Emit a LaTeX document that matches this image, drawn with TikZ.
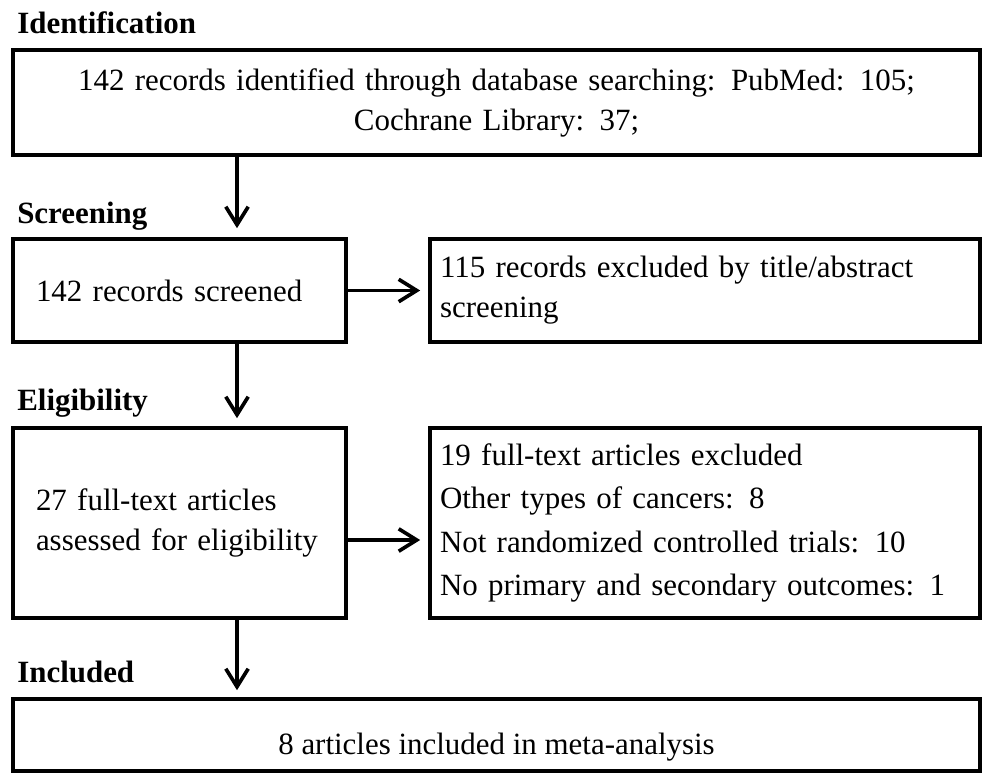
\documentclass[tikz,border=0pt]{standalone}
\usepackage{fontspec}
\setmainfont{Liberation Serif}
\usetikzlibrary{positioning,arrows.meta}
\def\pxu{0.025cm}

\begin{document}
\begin{tikzpicture}[x=0.025cm,y=-0.025cm,
  font=\fontsize{22}{28.5}\selectfont,
  >={Straight Barb[length=0.45cm,width=0.56cm]},
  box/.style={draw,line width=2.6pt,inner ysep=0pt},
  stage/.style={font=\fontsize{22}{28.5}\selectfont\bfseries,anchor=base west,inner sep=0pt},
  flow/.style={->,line width=2.6pt}]
\useasboundingbox (0,0) rectangle (987,772);

% Stage headings.
\node[stage] (hIdent) at (17,33) {Identification};
\node[stage] (hScreen) at (17,223) {Screening};
\node[stage] (hElig) at (17,410) {Eligibility};
\node[stage] (hIncl) at (17,682) {Included};

% Main column and side boxes.
\node[box,minimum width=967*\pxu,minimum height=105*\pxu,align=center,text width=940*\pxu] (ident) at (496.5,102.5)
  {142 records identified through database searching: PubMed: 105;\\ Cochrane Library: 37;};
\node[box,minimum width=333*\pxu,minimum height=103*\pxu,inner xsep=23*\pxu,align=left,text width=287*\pxu] (screen) at (179.5,290.5)
  {142 records screened};
\node[box,minimum width=550*\pxu,minimum height=103*\pxu,inner xsep=10*\pxu,align=left,text width=530*\pxu] (excl1) at (705,290.5)
  {115 records excluded by title/abstract\\ screening};
\node[box,minimum width=333*\pxu,minimum height=190*\pxu,inner xsep=23*\pxu,align=left,text width=287*\pxu] (elig) at (179.5,523)
  {27 full-text articles\\ assessed for eligibility};
\node[box,minimum width=550*\pxu,minimum height=190*\pxu,inner xsep=10*\pxu,align=left,text width=530*\pxu,
  font=\fontsize{22}{31}\selectfont] (excl2) at (705,523)
  {19 full-text articles excluded\\ Other types of cancers: 8\\ Not randomized controlled trials: 10\\ No primary and secondary outcomes: 1};
\node[box,minimum width=967*\pxu,minimum height=72*\pxu,text height=38*\pxu,text depth=0pt] (incl) at (496.5,735)
  {8 articles included in meta-analysis};

% Connectors.
\coordinate (spine) at (237,0);
\coordinate (row) at (0,540);
\draw[flow,shorten >=9*\pxu] (ident.south -| spine) -- (screen.north -| spine);
\draw[flow,shorten >=8*\pxu] (screen.south -| spine) -- (elig.north -| spine);
\draw[flow,shorten >=7*\pxu] (elig.south -| spine) -- (incl.north -| spine);
\draw[flow,shorten >=8*\pxu] (screen.east) -- (excl1.west);
\draw[flow,shorten >=8*\pxu] (elig.east |- row) -- (excl2.west |- row);
\end{tikzpicture}
\end{document}
